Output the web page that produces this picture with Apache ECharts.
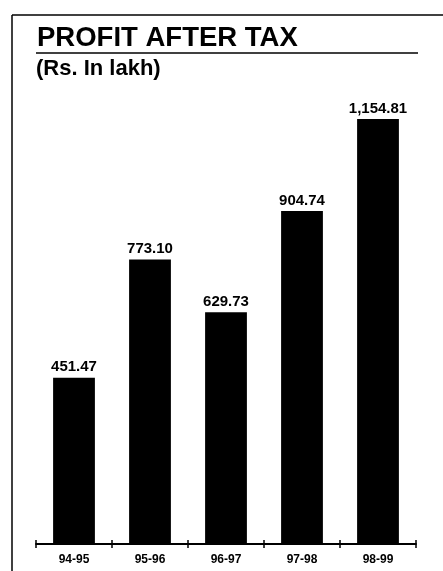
<!DOCTYPE html>
<html>
<head>
<meta charset="utf-8">
<script src="https://cdn.jsdelivr.net/npm/echarts@6/dist/echarts.min.js"></script>
<style>
html,body{margin:0;padding:0;background:#fff;}
#c{width:443px;height:571px;}
</style>
</head>
<body>
<div id="c"></div>
<script>
const categories = ['94-95', '95-96', '96-97', '97-98', '98-99'];
const profitValues = [451.47, 773.10, 629.73, 904.74, 1154.81];
const titleText = 'PROFIT AFTER TAX';
const subtitleText = '(Rs. In lakh)';

const FONT = '"Liberation Sans", Arial, Helvetica, sans-serif';
const chart = echarts.init(document.getElementById('c'));
chart.setOption({
  animation: false,
  backgroundColor: '#ffffff',
  grid: { left: 36, right: 27, top: 102.4, bottom: 27 },
  xAxis: [
    {
      type: 'category',
      data: categories,
      position: 'bottom',
      axisLine: { show: true, lineStyle: { color: '#000', width: 1.8 } },
      axisTick: { show: true, inside: false, length: 4, lineStyle: { color: '#000', width: 1.5 } },
      axisLabel: { color: '#000', fontFamily: FONT, fontWeight: 'bold', fontSize: 12, margin: 10 }
    },
    {
      type: 'category',
      data: categories,
      position: 'bottom',
      axisLine: { show: false },
      axisTick: { show: true, inside: true, length: 4, lineStyle: { color: '#000', width: 1.5 } },
      axisLabel: { show: false }
    }
  ],
  yAxis: { type: 'value', min: 0, max: 1200, show: false, splitLine: { show: false } },
  series: [{
    type: 'bar',
    xAxisIndex: 0,
    data: profitValues,
    barWidth: '55%',
    itemStyle: { color: '#000' },
    label: {
      show: true,
      position: 'top',
      distance: 3,
      color: '#000',
      fontFamily: FONT,
      fontWeight: 'bold',
      fontSize: 15,
      formatter: p => p.value.toLocaleString('en-US', { minimumFractionDigits: 2, maximumFractionDigits: 2 })
    }
  }],
  graphic: [
    { type: 'line', shape: { x1: 12, y1: 15, x2: 443, y2: 15 }, style: { stroke: '#000', lineWidth: 1.5 } },
    { type: 'line', shape: { x1: 12, y1: 15, x2: 12, y2: 571 }, style: { stroke: '#000', lineWidth: 1.5 } },
    { type: 'line', shape: { x1: 36, y1: 53, x2: 418, y2: 53 }, style: { stroke: '#000', lineWidth: 1.5 } },
    { type: 'text', left: 37, top: 24, style: { text: titleText, fill: '#000', font: 'bold 27.5px ' + FONT } },
    { type: 'text', left: 36, top: 58, style: { text: subtitleText, fill: '#000', font: 'bold 22px ' + FONT } }
  ]
});
</script>
</body>
</html>
